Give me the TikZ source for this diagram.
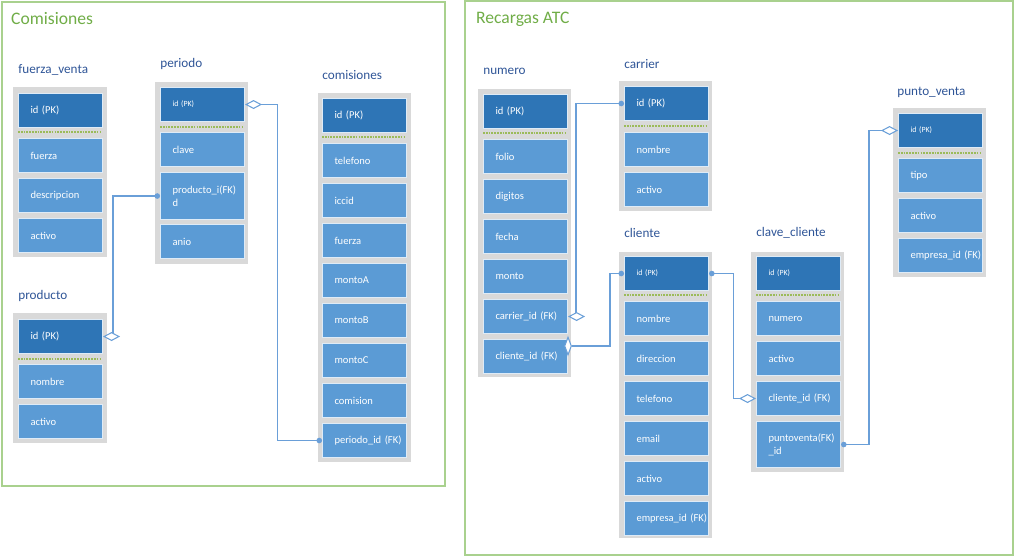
\documentclass[tikz,border=0pt]{standalone}
\usepackage{fontspec}
\setmainfont{Carlito}
\usepackage{xcolor}
\usetikzlibrary{arrows.meta, shapes.geometric}
\definecolor{pkblue}{HTML}{2E75B6}
\definecolor{fldblue}{HTML}{5B9BD5}
\definecolor{celledge}{HTML}{DEEBF7}
\definecolor{tblgray}{HTML}{D9D9D9}
\definecolor{framegreen}{HTML}{A9D18E}
\definecolor{areagreen}{HTML}{70AD47}
\definecolor{sepgreen}{HTML}{9BBB59}
\definecolor{namecol}{HTML}{2F5597}
\definecolor{linkblue}{HTML}{6A9FD8}
\tikzset{
  fkdot/.tip={Circle[length=1.1mm]},
  pkdia/.tip={Diamond[length=3.4mm, width=1.8mm, fill=white]},
}

\begin{document}
\begin{tikzpicture}[
        x=0.02cm, y=-0.02cm,
        frame/.style={draw=framegreen, line width=0.8pt},
        area/.style={anchor=west, text=areagreen, font=\fontsize{10}{12}\selectfont},
        tname/.style={anchor=west, text=namecol, inner sep=0pt, font=\fontsize{7.5}{9}\selectfont},
        tbl/.style={fill=tblgray, draw=none},
        cell/.style={anchor=north west, draw=celledge, line width=0.6pt, text=white,
            minimum width=1.68cm, minimum height=0.68cm, text width=1.2cm,
            inner xsep=0.24cm, inner ysep=0pt, align=left, font=\fontsize{6}{7.4}\selectfont},
        pk/.style={cell, fill=pkblue},
        pksmall/.style={pk, font=\fontsize{4.5}{5.5}\selectfont},
        fld/.style={cell, fill=fldblue},
        sep/.style={draw=sepgreen, line width=0.6pt, dash pattern=on 1pt off 0.6pt},
        rel/.style={draw=linkblue, line width=0.6pt},
        vdia/.style={diamond, draw=linkblue, fill=white, line width=0.6pt, inner sep=0pt,
            minimum width=0.14cm, minimum height=0.36cm},
    ]
        \useasboundingbox (0,0) rectangle (1016,557);

        % areas
        \draw[frame] (2,2) rectangle (445,486);
        \node[area] (comarea) at (5,19) {Comisiones};
        \draw[frame] (465,1) rectangle (1013,555);
        \node[area] (recarea) at (470,19) {Recargas ATC};

        % fuerza_venta
        \draw[tbl] (13,87) rectangle (107,257);
        \node[tname] (fvname) at (18,70) {fuerza\_venta};
        \node[pk] (fvpk) at (18,93) {id (PK)};
        \draw[sep] (18,132) -- (102,132);
        \foreach \f [count=\i] in {fuerza,descripcion,activo}
            \node[fld] (fv\i) at (18,{138+(\i-1)*40}) {\mbox{\f}};

        % periodo
        \draw[tbl] (155,82) rectangle (248,264);
        \node[tname] (pename) at (160,64) {periodo};
        \node[pksmall] (pepk) at (160,87) {id (PK)};
        \draw[sep] (160,127) -- (243,127);
        \node[fld] (pe1) at (160,132) {clave};
        \node[fld, minimum height=0.94cm] (pe2) at (160,172) {\mbox{producto\_i(FK)}\\d};
        \node[fld] (pe3) at (160,224) {anio};

        % comisiones
        \draw[tbl] (318,93) rectangle (411,462);
        \node[tname] (coname) at (322,75) {comisiones};
        \node[pk] (copk) at (322,98) {id (PK)};
        \draw[sep] (322,137) -- (406,137);
        \foreach \f [count=\i] in {telefono,iccid,fuerza,montoA,montoB,montoC,comision,periodo\_id (FK)}
            \node[fld] (co\i) at (322,{143+(\i-1)*40}) {\mbox{\f}};

        % producto
        \draw[tbl] (13,313) rectangle (107,443);
        \node[tname] (prname) at (18,296) {producto};
        \node[pk] (prpk) at (18,319) {id (PK)};
        \draw[sep] (18,359) -- (102,359);
        \foreach \f [count=\i] in {nombre,activo}
            \node[fld] (pr\i) at (18,{364+(\i-1)*40}) {\mbox{\f}};

        % numero
        \draw[tbl] (478,89) rectangle (571,377);
        \node[tname] (nuname) at (483,71) {numero};
        \node[pk] (nupk) at (483,94) {id (PK)};
        \draw[sep] (483,133) -- (566,133);
        \foreach \f [count=\i] in {folio,digitos,fecha,monto,carrier\_id (FK),cliente\_id (FK)}
            \node[fld] (nu\i) at (483,{139+(\i-1)*40}) {\mbox{\f}};

        % carrier
        \draw[tbl] (619,81) rectangle (712,211);
        \node[tname] (caname) at (624,64) {carrier};
        \node[pk] (capk) at (624,86) {id (PK)};
        \draw[sep] (624,126) -- (707,126);
        \foreach \f [count=\i] in {nombre,activo}
            \node[fld] (ca\i) at (624,{132+(\i-1)*40}) {\mbox{\f}};

        % cliente
        \draw[tbl] (619,252) rectangle (712,538);
        \node[tname] (clname) at (624,233) {cliente};
        \node[pksmall] (clpk) at (624,256) {id (PK)};
        \draw[sep] (624,295) -- (707,295);
        \foreach \f [count=\i] in {nombre,direccion,telefono,email,activo,empresa\_id (FK)}
            \node[fld] (cl\i) at (624,{301+(\i-1)*40}) {\mbox{\f}};

        % clave_cliente
        \draw[tbl] (751,252) rectangle (844,472);
        \node[tname] (ccname) at (756,233) {clave\_cliente};
        \node[pksmall] (ccpk) at (756,256) {id (PK)};
        \draw[sep] (756,295) -- (839,295);
        \foreach \f [count=\i] in {numero,activo,cliente\_id (FK)}
            \node[fld] (cc\i) at (756,{301+(\i-1)*40}) {\mbox{\f}};
        \node[fld, minimum height=0.92cm] (cc4) at (756,421) {\mbox{puntoventa(FK)}\\\_id};

        % punto_venta
        \draw[tbl] (893,108) rectangle (986,277);
        \node[tname] (pvname) at (897,92) {punto\_venta};
        \node[pksmall] (pvpk) at (898,113) {id (PK)};
        \draw[sep] (898,153) -- (981,153);
        \foreach \f [count=\i] in {tipo,activo,empresa\_id (FK)}
            \node[fld] (pv\i) at (898,{158+(\i-1)*40}) {\mbox{\f}};

        % relations
        \draw[rel, fkdot-pkdia] (pe2.west) -- ++(-47,0) |- (prpk.east);
        \draw[rel, pkdia-fkdot] (pepk.east) -- ++(32,0) |- (co8.west);
        \draw[rel, fkdot-pkdia] (capk.west) -- ++(-48,0) |- (nu5.east);
        \node[vdia] (cldia) at (568,346) {};
        \draw[rel, fkdot-] (clpk.west) -- ++(-14,0) |- (cldia.east);
        \draw[rel, fkdot-pkdia] (clpk.east) -- ++(24,0) |- (cc3.west);
        \draw[rel, pkdia-fkdot] (pvpk.west) -- ++(-29,0) |- (cc4.east);
    \end{tikzpicture}
\end{document}
